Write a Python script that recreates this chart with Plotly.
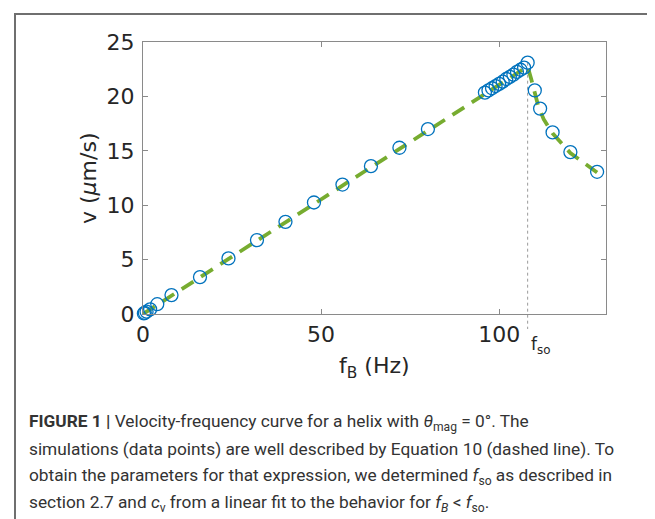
import plotly.graph_objects as go

# ---- data ----
f_B = [0.25, 0.5, 1, 2, 4, 8, 16, 24, 32, 40, 48, 56, 64, 72, 80,
       96, 97, 98, 99, 100, 101, 102, 103, 104, 105, 106, 107, 108,
       110, 111.5, 115, 120, 127.5]
v_sim = [0.05, 0.11, 0.21, 0.43, 0.9, 1.74, 3.39, 5.11, 6.79, 8.47, 10.25, 11.9, 13.59, 15.28, 17.0,
         20.35, 20.55, 20.75, 20.95, 21.15, 21.35, 21.6, 21.8, 22.0, 22.25, 22.45, 22.65, 23.1,
         20.55, 18.88, 16.69, 14.88, 13.07]

fit_f = [0, 108, 109, 110, 111, 112.5, 115, 120, 124, 127.5]
fit_v = [0, 22.75, 21.6, 20.2, 19.1, 17.9, 16.6, 14.8, 13.8, 13.0]

f_so = 108
f_so_v = 23.1

x_ticks = [0, 50, 100]
y_ticks = [0, 5, 10, 15, 20, 25]
x_range = [0, 130]
y_range = [0, 25]

caption_lines = [
    "<b>FIGURE 1 |</b> Velocity-frequency curve for a helix with <i>θ</i><sub>mag</sub> = 0°. The",
    "simulations (data points) are well described by Equation 10 (dashed line). To",
    "obtain the parameters for that expression, we determined <i>f</i><sub>so</sub> as described in",
    "section 2.7 and <i>c</i><sub>v</sub> from a linear fit to the behavior for <i>f<sub>B</sub></i> &lt; <i>f</i><sub>so</sub>.",
]

# ---- layout geometry (pixels) ----
W, H = 655, 519
L, R, T, B = 135, 598, 34, 306

def px(xp):
    return (xp - L) / (R - L)

def py(yp):
    return (B - yp) / (B - T)

fig = go.Figure()
fig.add_trace(go.Scatter(x=fit_f, y=fit_v, mode="lines",
                         line=dict(color="#77AC30", width=3.8, dash="14px,9px"),
                         hoverinfo="skip", showlegend=False))
fig.add_trace(go.Scatter(x=f_B, y=v_sim, mode="markers",
                         marker=dict(symbol="circle-open", size=13, color="#0072BD",
                                     line=dict(width=1.3, color="#0072BD")),
                         showlegend=False, cliponaxis=False))

axis_common = dict(showline=True, mirror="ticks", linecolor="#8a8a8a", linewidth=1,
                   ticks="inside", ticklen=5, tickcolor="#8a8a8a", showgrid=False,
                   zeroline=False, tickfont=dict(family="DejaVu Sans", size=22, color="#262626"))
fig.update_xaxes(range=x_range, tickvals=x_ticks, ticktext=[str(t) for t in x_ticks],
                 ticklabelstandoff=1, **axis_common)
fig.update_yaxes(range=y_range, tickvals=y_ticks, ticktext=[str(t) for t in y_ticks],
                 ticklabelstandoff=3, **axis_common)

shapes = []
# f_so dotted vertical line
shapes.append(dict(type="line", xref="paper", yref="paper",
                   x0=f_so / x_range[1], x1=f_so / x_range[1],
                   y0=f_so_v / y_range[1], y1=py(321),
                   line=dict(color="#9a9a9a", width=1, dash="dot"), layer="below"))
# outer frame
shapes.append(dict(type="rect", xref="paper", yref="paper",
                   x0=px(7), x1=px(700), y0=py(6), y1=py(560),
                   line=dict(color="#6f6f6f", width=2), fillcolor="rgba(0,0,0,0)"))
fig.update_layout(shapes=shapes)

ann = []
ann.append(dict(text="v (<i>μ</i>m/s)", xref="paper", yref="paper", x=px(80), y=py(170),
                textangle=-90, showarrow=False, xanchor="center", yanchor="middle",
                font=dict(family="DejaVu Sans", size=22, color="#262626")))
ann.append(dict(text="f<sub>B</sub> (Hz)", xref="paper", yref="paper", x=px(366), y=py(343),
                showarrow=False, xanchor="center", yanchor="top",
                font=dict(family="DejaVu Sans", size=22, color="#262626")))
ann.append(dict(text="f<sub>so</sub>", xref="paper", yref="paper", x=px(521), y=py(324),
                showarrow=False, xanchor="left", yanchor="top",
                font=dict(family="DejaVu Sans", size=17, color="#262626")))

for i, line in enumerate(caption_lines):
    ann.append(dict(text=line, xref="paper", yref="paper", x=px(19), y=py(414 + 27 * i),
                    showarrow=False, xanchor="left", yanchor="middle", align="left",
                    font=dict(family="Roboto", size=17.3, color="#333333")))
fig.update_layout(annotations=ann)

fig.update_layout(width=W, height=H, margin=dict(l=L, r=W - R, t=T, b=H - B),
                  paper_bgcolor="white", plot_bgcolor="white")

fig.write_html("out.html")
